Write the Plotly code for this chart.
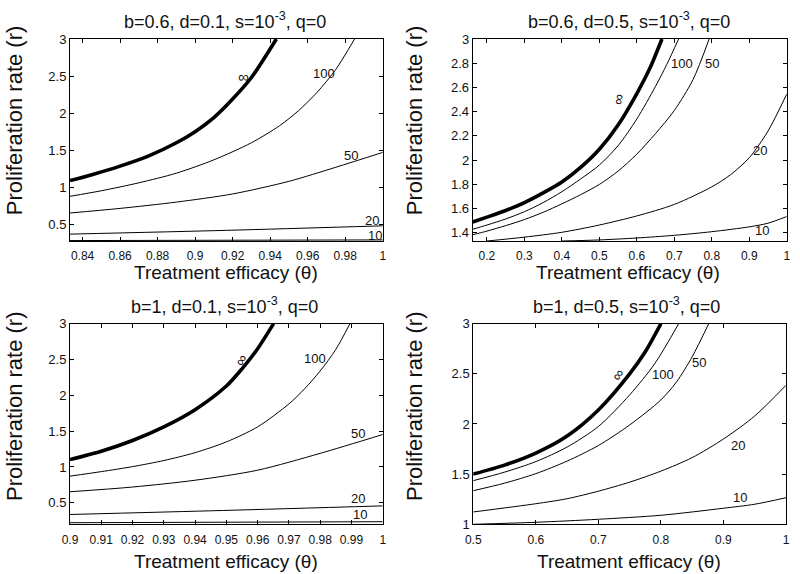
import plotly.graph_objects as go

# ---------------- data ----------------
# Panel 1: b=0.6, d=0.1
p1_theta_inf = [0.8333, 0.845, 0.86, 0.875, 0.89, 0.90, 0.91, 0.92, 0.93, 0.9433]
p1_r_inf = [1.09, 1.17, 1.285, 1.42, 1.60, 1.75, 1.94, 2.19, 2.48, 3.0]
p1_theta_100 = [0.8333, 0.85, 0.87, 0.89, 0.91, 0.93, 0.945, 0.955, 0.965, 0.975, 0.985]
p1_r_100 = [0.878, 0.953, 1.06, 1.19, 1.37, 1.60, 1.83, 2.03, 2.28, 2.59, 3.0]
p1_theta_50 = [0.8333, 0.86, 0.89, 0.92, 0.95, 0.975, 1.0]
p1_r_50 = [0.653, 0.715, 0.80, 0.91, 1.08, 1.27, 1.47]
p1_theta_20 = [0.8333, 0.9167, 1.0]
p1_r_20 = [0.368, 0.419, 0.48]
p1_theta_10 = [0.8333, 1.0]
p1_r_10 = [0.281, 0.29]

# Panel 2: b=0.6, d=0.5
p2_theta_inf = [0.162, 0.2, 0.25, 0.3, 0.35, 0.4, 0.45, 0.5, 0.55, 0.6, 0.635, 0.667]
p2_r_inf = [1.49, 1.53, 1.585, 1.65, 1.73, 1.82, 1.94, 2.09, 2.29, 2.55, 2.76, 3.0]
p2_theta_100 = [0.162, 0.2, 0.25, 0.3, 0.35, 0.4, 0.45, 0.5, 0.55, 0.6, 0.65, 0.68, 0.7115]
p2_r_100 = [1.43, 1.465, 1.515, 1.575, 1.65, 1.74, 1.845, 1.96, 2.12, 2.34, 2.61, 2.79, 3.0]
p2_theta_50 = [0.162, 0.2, 0.25, 0.3, 0.35, 0.4, 0.45, 0.5, 0.55, 0.6, 0.65, 0.7, 0.75, 0.793]
p2_r_50 = [1.385, 1.415, 1.46, 1.51, 1.57, 1.64, 1.715, 1.80, 1.91, 2.05, 2.22, 2.41, 2.665, 3.0]
p2_theta_20 = [0.2, 0.3, 0.4, 0.5, 0.6, 0.7, 0.8, 0.85, 0.9, 0.95, 1.0]
p2_r_20 = [1.333, 1.365, 1.405, 1.465, 1.54, 1.635, 1.78, 1.88, 2.02, 2.24, 2.545]
p2_theta_10 = [0.40, 0.5, 0.6, 0.7, 0.8, 0.9, 0.95, 1.0]
p2_r_10 = [1.333, 1.342, 1.358, 1.38, 1.41, 1.45, 1.48, 1.535]

# Panel 3: b=1, d=0.1
p3_theta_inf = [0.9, 0.91, 0.92, 0.93, 0.94, 0.95, 0.955, 0.96, 0.9651]
p3_r_inf = [1.104, 1.22, 1.37, 1.56, 1.80, 2.13, 2.37, 2.65, 3.0]
p3_theta_100 = [0.9, 0.91, 0.92, 0.93, 0.94, 0.95, 0.96, 0.97, 0.975, 0.98, 0.985, 0.9895]
p3_r_100 = [0.872, 0.935, 1.005, 1.09, 1.20, 1.35, 1.56, 1.88, 2.09, 2.34, 2.64, 3.0]
p3_theta_50 = [0.9, 0.92, 0.94, 0.96, 0.98, 1.0]
p3_r_50 = [0.654, 0.72, 0.815, 0.955, 1.19, 1.453]
p3_theta_20 = [0.9, 0.949, 1.0]
p3_r_20 = [0.337, 0.393, 0.457]
p3_theta_10 = [0.9, 1.0]
p3_r_10 = [0.222, 0.236]

# Panel 4: b=1, d=0.5
p4_theta_inf = [0.5, 0.55, 0.6, 0.65, 0.7, 0.75, 0.775, 0.80]
p4_r_inf = [1.501, 1.59, 1.71, 1.88, 2.14, 2.50, 2.72, 3.0]
p4_theta_100 = [0.5, 0.55, 0.6, 0.65, 0.7, 0.75, 0.79, 0.8284]
p4_r_100 = [1.435, 1.52, 1.625, 1.77, 1.975, 2.29, 2.60, 3.0]
p4_theta_50 = [0.5, 0.55, 0.6, 0.65, 0.7, 0.75, 0.8, 0.825, 0.85, 0.8764]
p4_r_50 = [1.335, 1.41, 1.505, 1.63, 1.785, 1.99, 2.24, 2.42, 2.67, 3.0]
p4_theta_20 = [0.5, 0.6, 0.65, 0.7, 0.75, 0.8, 0.85, 0.9, 0.95, 1.0]
p4_r_20 = [1.123, 1.205, 1.255, 1.33, 1.42, 1.53, 1.665, 1.85, 2.08, 2.386]
p4_theta_10 = [0.5, 0.6, 0.7, 0.8, 0.9, 0.95, 1.0]
p4_r_10 = [1.0, 1.02, 1.05, 1.09, 1.16, 1.20, 1.265]

curve_names = ["∞", "100", "50", "20", "10"]

titles = ["b=0.6, d=0.1, s=10<sup>-3</sup>, q=0",
          "b=0.6, d=0.5, s=10<sup>-3</sup>, q=0",
          "b=1, d=0.1, s=10<sup>-3</sup>, q=0",
          "b=1, d=0.5, s=10<sup>-3</sup>, q=0"]

p1_xticks = [0.84, 0.86, 0.88, 0.9, 0.92, 0.94, 0.96, 0.98, 1]
p1_xlabels = ["0.84", "0.86", "0.88", "0.9", "0.92", "0.94", "0.96", "0.98", "1"]
p1_yticks = [0.5, 1, 1.5, 2, 2.5, 3]
p1_ylabels = ["0.5", "1", "1.5", "2", "2.5", "3"]
p2_xticks = [0.2, 0.3, 0.4, 0.5, 0.6, 0.7, 0.8, 0.9, 1]
p2_xlabels = ["0.2", "0.3", "0.4", "0.5", "0.6", "0.7", "0.8", "0.9", "1"]
p2_yticks = [1.4, 1.6, 1.8, 2, 2.2, 2.4, 2.6, 2.8, 3]
p2_ylabels = ["1.4", "1.6", "1.8", "2", "2.2", "2.4", "2.6", "2.8", "3"]
p3_xticks = [0.9, 0.91, 0.92, 0.93, 0.94, 0.95, 0.96, 0.97, 0.98, 0.99, 1]
p3_xlabels = ["0.9", "0.91", "0.92", "0.93", "0.94", "0.95", "0.96", "0.97", "0.98", "0.99", "1"]
p3_yticks = [0.5, 1, 1.5, 2, 2.5, 3]
p3_ylabels = ["0.5", "1", "1.5", "2", "2.5", "3"]
p4_xticks = [0.5, 0.6, 0.7, 0.8, 0.9, 1]
p4_xlabels = ["0.5", "0.6", "0.7", "0.8", "0.9", "1"]
p4_yticks = [1, 1.5, 2, 2.5, 3]
p4_ylabels = ["1", "1.5", "2", "2.5", "3"]

# curve-label positions (theta, r) per panel, order as curve_names
p1_lab = [(0.9256, 2.5), (0.9686, 2.54), (0.9829, 1.43), (0.9945, 0.55), (0.996, 0.345)]
p2_lab = [(0.55, 2.5), (0.7195, 2.80), (0.80, 2.80), (0.929, 2.083), (0.933, 1.42)]
p3_lab = [(0.9546, 2.5), (0.9783, 2.51), (0.9922, 1.467), (0.9922, 0.56), (0.9927, 0.33)]
p4_lab = [(0.7303, 2.495), (0.8028, 2.495), (0.8614, 2.608), (0.9238, 1.788), (0.9265, 1.272)]

# ---------------- figure ----------------
FONT = "Liberation Sans, Arial, Helvetica, sans-serif"
panels = [
    dict(curves=[(p1_theta_inf, p1_r_inf), (p1_theta_100, p1_r_100), (p1_theta_50, p1_r_50),
                 (p1_theta_20, p1_r_20), (p1_theta_10, p1_r_10)],
         xr=[0.8333, 1.0], yr=[0.275, 3.0], xt=(p1_xticks, p1_xlabels), yt=(p1_yticks, p1_ylabels),
         xd=[0.0875, 0.4784], yd=[0.5801, 0.9321], lab=p1_lab, inf_angle=0,
         title_xy=(0.2815, 0.965), ylab_xy=(0.019, 0.791), xlab_xy=(0.283, 0.5244)),
    dict(curves=[(p2_theta_inf, p2_r_inf), (p2_theta_100, p2_r_100), (p2_theta_50, p2_r_50),
                 (p2_theta_20, p2_r_20), (p2_theta_10, p2_r_10)],
         xr=[0.162, 1.0], yr=[1.333, 3.0], xt=(p2_xticks, p2_xlabels), yt=(p2_yticks, p2_ylabels),
         xd=[0.5909, 0.9834], yd=[0.5801, 0.9321], lab=p2_lab, inf_angle=-80,
         title_xy=(0.786, 0.965), ylab_xy=(0.519, 0.791), xlab_xy=(0.785, 0.5244)),
    dict(curves=[(p3_theta_inf, p3_r_inf), (p3_theta_100, p3_r_100), (p3_theta_50, p3_r_50),
                 (p3_theta_20, p3_r_20), (p3_theta_10, p3_r_10)],
         xr=[0.9, 1.0], yr=[0.2, 3.0], xt=(p3_xticks, p3_xlabels), yt=(p3_yticks, p3_ylabels),
         xd=[0.0875, 0.4784], yd=[0.0866, 0.4361], lab=p3_lab, inf_angle=-60,
         title_xy=(0.28, 0.467), ylab_xy=(0.019, 0.293), xlab_xy=(0.282, 0.021)),
    dict(curves=[(p4_theta_inf, p4_r_inf), (p4_theta_100, p4_r_100), (p4_theta_50, p4_r_50),
                 (p4_theta_20, p4_r_20), (p4_theta_10, p4_r_10)],
         xr=[0.5, 1.0], yr=[1.0, 3.0], xt=(p4_xticks, p4_xlabels), yt=(p4_yticks, p4_ylabels),
         xd=[0.5916, 0.9825], yd=[0.0866, 0.4361], lab=p4_lab, inf_angle=-55,
         title_xy=(0.783, 0.467), ylab_xy=(0.519, 0.293), xlab_xy=(0.786, 0.021)),
]

fig = go.Figure()
layout = dict(width=800, height=574, margin=dict(l=0, r=0, t=0, b=0, pad=0),
              paper_bgcolor="white", plot_bgcolor="white", showlegend=False,
              font=dict(family=FONT, color="#111"))
annotations = []

for i, p in enumerate(panels):
    k = "" if i == 0 else str(i + 1)
    xref, yref = "x" + k, "y" + k
    for j, (tx, ry) in enumerate(p["curves"]):
        fig.add_trace(go.Scatter(
            x=tx, y=ry, mode="lines", xaxis=xref, yaxis=yref,
            line=dict(color="black", width=3.6 if j == 0 else 1.0, shape="spline", smoothing=0.8),
            name=curve_names[j], hoverinfo="skip"))
    common = dict(showline=True, linecolor="black", linewidth=1, mirror="ticks",
                  ticks="inside", ticklen=4, tickcolor="black", tickwidth=1,
                  showgrid=False, zeroline=False, fixedrange=True, automargin=False)
    layout["xaxis" + k] = dict(common, domain=p["xd"], range=p["xr"], anchor=yref,
                               tickmode="array", tickvals=p["xt"][0], ticktext=p["xt"][1],
                               ticklabelstandoff=4,
                               tickfont=dict(size=12, family=FONT, color="#111"))
    layout["yaxis" + k] = dict(common, domain=p["yd"], range=p["yr"], anchor=xref,
                               tickmode="array", tickvals=p["yt"][0], ticktext=p["yt"][1],
                               tickfont=dict(size=13, family=FONT, color="#111"))
    ann = dict(showarrow=False, xanchor="center", yanchor="middle")
    # curve labels
    for j, (lx, ly) in enumerate(p["lab"]):
        annotations.append(dict(ann, x=lx, y=ly, xref=xref, yref=yref, text=curve_names[j],
                                font=dict(size=15 if j == 0 else 13, family=FONT, color="#111"),
                                textangle=p["inf_angle"] if j == 0 else 0))
    # title and axis labels
    annotations.append(dict(ann, x=p["title_xy"][0], y=p["title_xy"][1], xref="paper", yref="paper",
                            text=titles[i], font=dict(size=18, family=FONT, color="#111")))
    annotations.append(dict(ann, x=p["ylab_xy"][0], y=p["ylab_xy"][1], xref="paper", yref="paper",
                            text="Proliferation rate (r)", textangle=-90,
                            font=dict(size=22, family=FONT, color="#111")))
    annotations.append(dict(ann, x=p["xlab_xy"][0], y=p["xlab_xy"][1], xref="paper", yref="paper",
                            text="Treatment efficacy (θ)",
                            font=dict(size=19, family=FONT, color="#111")))

layout["annotations"] = annotations
fig.update_layout(**layout)
fig.write_html("out.html", config={"displayModeBar": False},
               post_script="document.body.style.margin='0px';")
